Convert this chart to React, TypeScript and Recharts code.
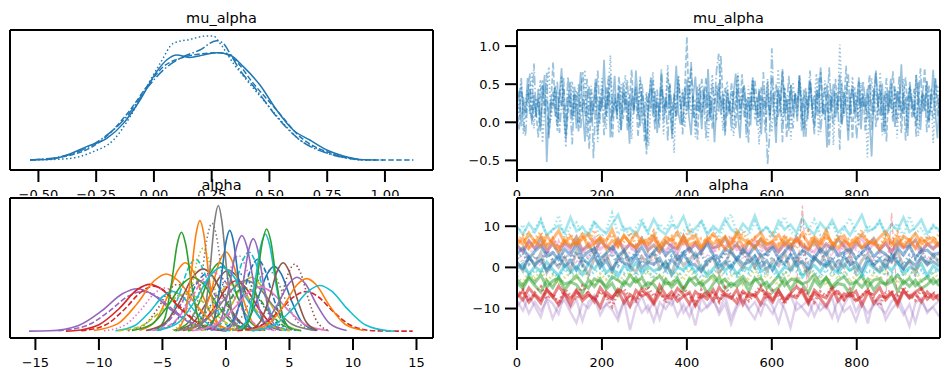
import React from 'react';
import { LineChart, Line, XAxis, YAxis } from 'recharts';

const FONT = '"DejaVu Sans", sans-serif';
const TAB10 = ['#1f77b4', '#ff7f0e', '#2ca02c', '#d62728', '#9467bd', '#8c564b', '#e377c2', '#7f7f7f', '#bcbd22', '#17becf'];
const DASHES = [undefined, '5.5 2.4', '1.5 2.5', '9.6 2.4 1.5 2.4'];

// ---------- mu_alpha KDE (4 chains) ----------
const muKdeSolidX = [-0.536, -0.45, -0.377, -0.291, -0.204, -0.132, -0.06, 0.012, 0.055, 0.099, 0.156, 0.214, 0.272, 0.329, 0.387, 0.459, 0.531, 0.603, 0.675, 0.748, 0.82, 0.892, 0.964];
const muKdeSolidY = [0.0, 0.005, 0.04, 0.107, 0.173, 0.293, 0.48, 0.707, 0.8, 0.84, 0.821, 0.84, 0.859, 0.84, 0.747, 0.6, 0.4, 0.24, 0.16, 0.08, 0.032, 0.005, 0.0];
const muKdeDashedX = [-0.536, -0.377, -0.233, -0.103, -0.031, 0.041, 0.113, 0.199, 0.286, 0.344, 0.43, 0.531, 0.632, 0.776, 0.921, 1.123];
const muKdeDashedY = [0.0, 0.032, 0.147, 0.4, 0.587, 0.747, 0.813, 0.848, 0.859, 0.813, 0.613, 0.4, 0.187, 0.048, 0.0, 0.0];
const muKdeDottedX = [-0.536, -0.377, -0.262, -0.175, -0.103, -0.031, 0.027, 0.084, 0.156, 0.228, 0.257, 0.286, 0.344, 0.401, 0.474, 0.56, 0.632, 0.704, 0.776, 0.921, 0.993];
const muKdeDottedY = [0.0, 0.01, 0.067, 0.16, 0.347, 0.587, 0.773, 0.933, 0.965, 0.992, 0.992, 0.933, 0.773, 0.64, 0.48, 0.293, 0.16, 0.093, 0.04, 0.0, 0.0];
const muKdeDashDotX = [-0.536, -0.377, -0.233, -0.118, -0.031, 0.041, 0.127, 0.199, 0.271, 0.3, 0.329, 0.372, 0.444, 0.531, 0.632, 0.776, 0.892];
const muKdeDashDotY = [0.0, 0.037, 0.16, 0.347, 0.573, 0.72, 0.827, 0.88, 0.955, 0.933, 0.853, 0.72, 0.56, 0.347, 0.16, 0.04, 0.005];

const muKdeXTicks = [-0.5, -0.25, 0, 0.25, 0.5, 0.75, 1.0];
const muKdeXLabels = ['\u22120.50', '\u22120.25', '0.00', '0.25', '0.50', '0.75', '1.00'];

// ---------- mu_alpha trace (4 chains, every 5th draw) ----------
const muDraws = [
  0, 5, 10, 15, 20, 25, 30, 35, 40, 45, 50, 55, 60, 65, 70, 75, 80, 85, 90, 95,
  100, 105, 110, 115, 120, 125, 130, 135, 140, 145, 150, 155, 160, 165, 170, 175, 180, 185, 190, 195,
  200, 205, 210, 215, 220, 225, 230, 235, 240, 245, 250, 255, 260, 265, 270, 275, 280, 285, 290, 295,
  300, 305, 310, 315, 320, 325, 330, 335, 340, 345, 350, 355, 360, 365, 370, 375, 380, 385, 390, 395,
  400, 405, 410, 415, 420, 425, 430, 435, 440, 445, 450, 455, 460, 465, 470, 475, 480, 485, 490, 495,
  500, 505, 510, 515, 520, 525, 530, 535, 540, 545, 550, 555, 560, 565, 570, 575, 580, 585, 590, 595,
  600, 605, 610, 615, 620, 625, 630, 635, 640, 645, 650, 655, 660, 665, 670, 675, 680, 685, 690, 695,
  700, 705, 710, 715, 720, 725, 730, 735, 740, 745, 750, 755, 760, 765, 770, 775, 780, 785, 790, 795,
  800, 805, 810, 815, 820, 825, 830, 835, 840, 845, 850, 855, 860, 865, 870, 875, 880, 885, 890, 895,
  900, 905, 910, 915, 920, 925, 930, 935, 940, 945, 950, 955, 960, 965, 970, 975, 980, 985, 990, 995,
];
const muChain0 = [
  0.25, 0.41, -0.05, 0.33, 0.12, 0.58, 0.19, 0.02, 0.36, 0.07, 0.44, -0.12, 0.29, 0.62, -0.52, 0.15, 0.30, 0.21, 0.48, 0.02,
  0.35, 0.71, 0.10, -0.18, 0.27, 0.53, 0.06, 0.39, -0.08, 0.24, 0.66, 0.13, -0.25, 0.31, 0.47, 0.00, 0.22, 0.57, -0.15, 0.34,
  0.18, 0.82, 0.09, 0.43, -0.20, 0.26, 0.61, 0.04, 0.37, -0.10, 0.52, 0.16, 0.30, -0.28, 0.45, 0.11, 0.68, 0.23, -0.05, 0.38,
  0.14, -0.30, 0.29, 0.55, 0.08, 0.41, -0.14, 0.20, 0.63, 0.01, 0.33, 0.17, 0.49, -0.22, 0.27, 0.74, 0.12, -0.03, 0.40, 0.21,
  0.56, 0.07, -0.17, 0.35, 0.60, 0.15, 0.28, -0.09, 0.46, 0.19, 0.70, 0.03, 0.32, -0.26, 0.24, 0.51, 0.10, 0.37, -0.12, 0.43,
  0.22, 0.05, 0.39, 0.64, 0.11, -0.21, 0.28, 0.47, 0.16, 0.33, -0.04, 0.58, 0.25, 0.09, 0.42, -0.16, 0.31, 0.19, 0.53, 0.02,
  0.36, 0.14, -0.27, 0.45, 0.23, 0.67, 0.08, 0.30, -0.11, 0.49, 0.18, 0.38, 0.01, 0.61, 0.26, -0.19, 0.34, 0.12, 0.55, 0.21,
  -0.07, 0.43, 0.29, 0.72, 0.10, 0.24, -0.33, 0.37, 0.15, 0.50, 0.06, 0.27, 0.63, -0.02, 0.40, 0.19, -0.24, 0.32, 0.48, 0.13,
  0.26, 0.59, -0.09, 0.35, 0.17, 0.44, 0.04, -0.45, 0.29, 0.68, 0.22, 0.09, 0.51, -0.13, 0.38, 0.15, 0.57, 0.28, -0.06, 0.41,
  0.20, 0.76, 0.11, 0.33, -0.18, 0.46, 0.24, 0.07, 0.62, 0.30, -0.10, 0.39, 0.16, 0.54, 0.03, 0.27, 0.69, 0.12, -0.21, 0.35,
];
const muChain1 = [
  0.18, -0.10, 0.47, 0.22, 0.05, 0.36, 0.64, -0.03, 0.28, 0.13, -0.20, 0.40, 0.55, 0.09, 0.31, -0.16, 0.24, 0.79, 0.16, -0.06,
  0.43, 0.20, 0.58, -0.24, 0.12, 0.35, 0.02, 0.48, 0.27, -0.13, 0.39, 0.66, 0.08, 0.21, -0.35, 0.30, 0.14, 0.52, 0.26, -0.02,
  0.45, 0.33, 0.06, 0.60, 0.19, -0.21, 0.37, 0.11, 0.60, 0.25, 0.04, 0.42, -0.11, 0.29, 0.69, 0.15, 0.34, -0.19, 0.23, 0.50,
  0.09, -0.42, 0.38, 0.18, 0.57, 0.01, 0.27, -0.07, 0.44, 0.31, 0.12, 0.65, 0.20, -0.15, 0.36, 0.07, 0.53, 0.24, -0.04, 0.41,
  1.12, 0.17, 0.72, 0.05, 0.30, -0.23, 0.46, 0.13, 0.26, 0.59, 0.02, 0.35, -0.09, 0.21, 0.48, 0.14, 0.87, 0.28, -0.18, 0.39,
  0.11, 0.52, 0.23, -0.08, 0.44, 0.19, 0.63, 0.06, 0.31, -0.27, 0.40, 0.15, 0.56, 0.28, 0.00, 0.47, 0.20, -0.14, 0.37, 0.09,
  0.58, 0.25, -0.05, 0.42, 0.13, 0.70, 0.32, -0.20, 0.24, 0.49, 0.08, 0.36, 0.17, 0.61, -0.11, 0.29, 0.45, 0.04, 0.53, 0.22,
  -0.16, 0.38, 0.10, 0.66, 0.27, 0.03, 0.50, -0.31, 0.34, 0.19, 0.57, 0.12, 0.41, -0.03, 0.26, 0.74, 0.15, 0.33, -0.22, 0.46,
  0.07, 0.55, 0.21, 0.39, -0.12, 0.30, 0.62, 0.14, 0.45, -0.06, 0.23, 0.51, 0.09, 0.36, -0.25, 0.42, 0.18, 0.67, 0.28, 0.01,
  0.40, -0.14, 0.33, 0.59, 0.16, 0.47, 0.05, 0.25, -0.19, 0.53, 0.11, 0.37, 0.71, 0.20, -0.07, 0.44, 0.26, 0.58, 0.08, 0.32,
];
const muChain2 = [
  0.30, 0.08, 0.52, -0.15, 0.26, 0.44, 0.11, 0.67, -0.08, 0.32, 0.20, 0.56, -0.27, 0.14, 0.38, 0.73, 0.03, 0.29, 0.47, -0.12,
  0.23, 0.61, 0.10, -0.33, 0.35, 0.19, 0.54, 0.06, 0.42, -0.04, 0.27, 0.13, 0.69, -0.19, 0.31, 0.48, 0.09, 0.37, -0.26, 0.22,
  0.58, 0.15, -0.09, 0.40, 0.88, 0.07, 0.33, 0.18, -0.14, 0.50, 0.25, 0.62, 0.02, 0.36, -0.22, 0.28, 0.45, 0.12, 0.55, -0.01,
  0.19, 0.40, -0.31, 0.26, 0.66, 0.14, 0.34, 0.05, 0.49, -0.16, 0.30, 0.75, 0.09, 0.21, -0.40, 0.39, 0.60, 0.17, 0.43, -0.07,
  0.27, 0.58, 0.11, 0.35, -0.20, 0.24, 0.51, 0.06, 0.40, 0.16, -0.24, 0.33, 0.63, 0.19, 0.02, 0.45, 0.27, -0.11, 0.36, 0.54,
  0.13, 0.41, -0.18, 0.29, 0.65, 0.08, 0.37, 0.22, -0.06, 0.48, 0.17, 0.59, 0.03, 0.32, -0.29, 0.25, 0.44, 0.10, 0.57, 0.20,
  -0.13, 0.36, 0.15, 0.70, 0.28, -0.02, 0.46, 0.12, 0.34, -0.23, 0.53, 0.21, 0.07, 0.62, 0.31, -0.09, 0.40, 0.18, 0.49, 0.05,
  0.26, 0.64, -0.17, 0.38, 0.11, 0.55, 0.23, 0.00, 0.43, -0.30, 0.29, 0.16, 1.02, 0.35, 0.08, 0.47, -0.12, 0.27, 0.60, 0.14,
  0.39, -0.05, 0.52, 0.20, 0.33, -0.46, 0.24, 0.58, 0.10, 0.41, 0.02, 0.66, 0.17, -0.15, 0.37, 0.28, 0.50, 0.06, 0.44, -0.21,
  0.31, 0.13, 0.57, 0.22, -0.08, 0.48, 0.35, 0.09, 0.63, -0.18, 0.26, 0.42, 0.15, 0.54, 0.01, 0.38, -0.27, 0.30, 0.49, 0.19,
];
const muChain3 = [
  0.12, 0.35, 0.58, 0.04, -0.18, 0.28, 0.45, 0.16, 0.77, 0.09, 0.31, -0.06, 0.49, 0.23, 0.65, -0.21, 0.18, 0.40, 0.07, 0.53,
  -0.14, 0.26, 0.44, 0.02, 0.60, 0.21, -0.29, 0.37, 0.15, 0.50, -0.09, 0.32, 0.19, 0.57, -0.02, 0.42, -0.47, 0.25, 0.68, 0.11,
  0.34, -0.17, 0.46, 0.20, 0.63, 0.05, 0.29, 0.14, 0.48, -0.12, 0.39, 0.24, 0.56, -0.07, 0.31, 0.17, 0.48, 0.08, 0.60, 0.22,
  -0.25, 0.36, 0.14, 0.59, 0.27, -0.10, 0.43, 0.09, 0.70, 0.18, 0.32, -0.25, 0.51, 0.15, 0.38, 0.04, 0.61, 0.26, -0.16, 0.45,
  0.11, 0.34, 0.79, 0.20, -0.05, 0.47, 0.13, 0.57, 0.29, -0.21, 0.40, 0.07, 0.52, 0.23, 0.69, 0.90, 0.30, 0.17, 0.45, 0.08,
  0.28, -0.11, 0.41, 0.19, 0.62, 0.03, 0.35, 0.49, -0.20, 0.26, 0.14, 0.56, 0.31, -0.04, 0.44, 0.10, 0.66, 0.22, -0.55, -0.15,
  0.97, 0.24, 0.50, 0.07, 0.33, -0.26, 0.46, 0.18, 0.61, 0.12, -0.08, 0.39, 0.27, 0.55, 0.02, 0.43, -0.19, 0.30, 0.68, 0.16,
  0.36, 0.09, 0.58, -0.13, 0.25, 0.47, 0.14, 0.72, 0.21, -0.03, 0.40, 0.29, -0.36, 0.52, 0.11, 0.34, 0.63, 0.06, 0.45, 0.19,
  -0.22, 0.37, 0.15, 0.54, 0.28, 0.04, 0.49, -0.10, 0.31, 0.66, 0.20, 0.42, -0.17, 0.26, 0.58, 0.12, 0.35, 0.01, 0.47, 0.23,
  0.60, 0.08, 0.39, -0.24, 0.30, 0.53, 0.17, 0.44, -0.06, 0.27, 0.71, 0.14, 0.36, -0.13, 0.48, 0.22, 0.05, 0.57, 0.32, 0.10,
];

const traceXTicks = [0, 200, 400, 600, 800];
const traceXLabels = ['0', '200', '400', '600', '800'];
const muTraceYTicks = [-0.5, 0, 0.5, 1.0];
const muTraceYLabels = ['\u22120.5', '0.0', '0.5', '1.0'];

// ---------- alpha KDE (per group, [x, density]) ----------
const alphaKdeCurves: [number, number][][] = [
  [[-6.8, 0.002], [-5.6, 0.026], [-4.64, 0.093], [-3.8, 0.168], [-3.2, 0.19], [-2.6, 0.168], [-1.76, 0.093], [-0.8, 0.026], [0.4, 0.002]],
  [[-5.4, 0.002], [-4.1, 0.022], [-3.06, 0.078], [-2.15, 0.141], [-1.5, 0.16], [-0.85, 0.141], [0.06, 0.078], [1.1, 0.022], [2.4, 0.002]],
  [[-4.0, 0.002], [-2.6, 0.023], [-1.48, 0.083], [-0.5, 0.15], [0.2, 0.17], [0.9, 0.15], [1.88, 0.083], [3.0, 0.023], [4.4, 0.002]],
  [[-2.0, 0.002], [-1.0, 0.028], [-0.2, 0.102], [0.5, 0.185], [1.0, 0.21], [1.5, 0.185], [2.2, 0.102], [3.0, 0.028], [4.0, 0.002]],
  [[-1.9, 0.002], [-0.6, 0.02], [0.44, 0.073], [1.35, 0.132], [2.0, 0.15], [2.65, 0.132], [3.56, 0.073], [4.6, 0.02], [5.9, 0.002]],
  [[-5.7, 0.002], [-4.6, 0.027], [-3.72, 0.097], [-2.95, 0.176], [-2.4, 0.2], [-1.85, 0.176], [-1.08, 0.097], [-0.2, 0.027], [0.9, 0.002]],
  [[-4.1, 0.002], [-2.9, 0.026], [-1.94, 0.093], [-1.1, 0.168], [-0.5, 0.19], [0.1, 0.168], [0.94, 0.093], [1.9, 0.026], [3.1, 0.002]],
  [[-3.4, 0.002], [-2.0, 0.019], [-0.88, 0.068], [0.1, 0.123], [0.8, 0.14], [1.5, 0.123], [2.48, 0.068], [3.6, 0.019], [5.0, 0.002]],
  [[-0.3, 0.002], [0.9, 0.023], [1.86, 0.083], [2.7, 0.15], [3.3, 0.17], [3.9, 0.15], [4.74, 0.083], [5.7, 0.023], [6.9, 0.002]],
  [[-6.2, 0.002], [-4.8, 0.019], [-3.68, 0.068], [-2.7, 0.123], [-2.0, 0.14], [-1.3, 0.123], [-0.32, 0.068], [0.8, 0.019], [2.2, 0.002]],
  [[-3.0, 0.002], [-2.0, 0.03], [-1.2, 0.107], [-0.5, 0.194], [0.0, 0.22], [0.5, 0.194], [1.2, 0.107], [2.0, 0.03], [3.0, 0.002]],
  [[0.5, 0.002], [1.6, 0.024], [2.48, 0.088], [3.25, 0.159], [3.8, 0.18], [4.35, 0.159], [5.12, 0.088], [6.0, 0.024], [7.1, 0.002]],
  [[-1.2, 0.002], [-0.2, 0.03], [0.6, 0.107], [1.3, 0.194], [1.8, 0.22], [2.3, 0.194], [3.0, 0.107], [3.8, 0.03], [4.8, 0.002]],
  [[-7.7, 0.001], [-6.4, 0.018], [-5.36, 0.063], [-4.45, 0.115], [-3.8, 0.13], [-3.15, 0.115], [-2.24, 0.063], [-1.2, 0.018], [0.1, 0.001]],
  [[-15.5, 0], [-13.9, 0.001], [-11.6, 0.016], [-9.76, 0.057], [-8.15, 0.104], [-7.0, 0.118], [-5.85, 0.104], [-4.24, 0.057], [-2.4, 0.016], [-0.1, 0.001]],
  [[-13.2, 0.001], [-11.0, 0.015], [-9.24, 0.054], [-7.7, 0.097], [-6.6, 0.11], [-5.5, 0.097], [-3.96, 0.054], [-2.2, 0.015], [0.0, 0.001]],
  [[-12.6, 0], [-12.0, 0.001], [-10.0, 0.018], [-8.4, 0.063], [-7.0, 0.115], [-6.0, 0.13], [-5.0, 0.115], [-3.6, 0.063], [-2.0, 0.018], [0.0, 0.001]],
  [[-11.4, 0.001], [-9.5, 0.017], [-7.98, 0.061], [-6.65, 0.11], [-5.7, 0.125], [-4.75, 0.11], [-3.42, 0.061], [-1.9, 0.017], [0.0, 0.001]],
  [[-10.4, 0.002], [-8.5, 0.021], [-6.98, 0.077], [-5.65, 0.14], [-4.7, 0.159], [-3.75, 0.14], [-2.42, 0.077], [-0.9, 0.021], [1.0, 0.002]],
  [[-9.6, 0.001], [-8.0, 0.016], [-6.72, 0.058], [-5.6, 0.106], [-4.8, 0.12], [-4.0, 0.106], [-2.88, 0.058], [-1.6, 0.016], [0.0, 0.001]],
  [[-8.7, 0.001], [-7.2, 0.015], [-6.0, 0.054], [-4.95, 0.097], [-4.2, 0.11], [-3.45, 0.097], [-2.4, 0.054], [-1.2, 0.015], [0.3, 0.001]],
  [[-8.5, 0.001], [-6.7, 0.014], [-5.26, 0.051], [-4.0, 0.092], [-3.1, 0.104], [-2.2, 0.092], [-0.94, 0.051], [0.5, 0.014], [2.3, 0.001]],
  [[-7.4, 0.002], [-5.8, 0.02], [-4.52, 0.073], [-3.4, 0.132], [-2.6, 0.15], [-1.8, 0.132], [-0.68, 0.073], [0.6, 0.02], [2.2, 0.002]],
  [[-5.45, 0.003], [-4.8, 0.037], [-4.28, 0.134], [-3.83, 0.243], [-3.5, 0.275], [-3.18, 0.243], [-2.72, 0.134], [-2.2, 0.037], [-1.55, 0.003]],
  [[-6.3, 0.002], [-4.8, 0.023], [-3.6, 0.084], [-2.55, 0.153], [-1.8, 0.173], [-1.05, 0.153], [0.0, 0.084], [1.2, 0.023], [2.7, 0.002]],
  [[-4.2, 0.003], [-3.4, 0.031], [-2.76, 0.112], [-2.2, 0.203], [-1.8, 0.23], [-1.4, 0.203], [-0.84, 0.112], [-0.2, 0.031], [0.6, 0.003]],
  [[-3.85, 0.003], [-3.25, 0.041], [-2.77, 0.15], [-2.35, 0.271], [-2.05, 0.307], [-1.75, 0.271], [-1.33, 0.15], [-0.85, 0.041], [-0.25, 0.003]],
  [[-5.8, 0.002], [-4.2, 0.022], [-2.92, 0.079], [-1.8, 0.144], [-1.0, 0.163], [-0.2, 0.144], [0.92, 0.079], [2.2, 0.022], [3.8, 0.002]],
  [[-3.2, 0.003], [-2.5, 0.041], [-1.94, 0.146], [-1.45, 0.265], [-1.1, 0.3], [-0.75, 0.265], [-0.26, 0.146], [0.3, 0.041], [1.0, 0.003]],
  [[-2.25, 0.004], [-1.7, 0.047], [-1.26, 0.17], [-0.88, 0.308], [-0.6, 0.349], [-0.33, 0.308], [0.06, 0.17], [0.5, 0.047], [1.05, 0.004]],
  [[-5.45, 0.002], [-3.75, 0.024], [-2.39, 0.087], [-1.2, 0.157], [-0.35, 0.178], [0.5, 0.157], [1.69, 0.087], [3.05, 0.024], [4.75, 0.002]],
  [[-4.0, 0.001], [-2.5, 0.018], [-1.3, 0.063], [-0.25, 0.115], [0.5, 0.13], [1.25, 0.115], [2.3, 0.063], [3.5, 0.018], [5.0, 0.001]],
  [[-1.5, 0.003], [-0.9, 0.038], [-0.42, 0.136], [0.0, 0.247], [0.3, 0.28], [0.6, 0.247], [1.02, 0.136], [1.5, 0.038], [2.1, 0.003]],
  [[-3.95, 0.002], [-2.35, 0.022], [-1.07, 0.079], [0.05, 0.144], [0.85, 0.163], [1.65, 0.144], [2.77, 0.079], [4.05, 0.022], [5.65, 0.002]],
  [[-1.15, 0.003], [-0.35, 0.036], [0.29, 0.13], [0.85, 0.235], [1.25, 0.266], [1.65, 0.235], [2.21, 0.13], [2.85, 0.036], [3.65, 0.003]],
  [[-3.0, 0.001], [-1.5, 0.016], [-0.3, 0.058], [0.75, 0.106], [1.5, 0.12], [2.25, 0.106], [3.3, 0.058], [4.5, 0.016], [6.0, 0.001]],
  [[-3.8, 0.002], [-2.0, 0.019], [-0.56, 0.069], [0.7, 0.124], [1.6, 0.141], [2.5, 0.124], [3.76, 0.069], [5.2, 0.019], [7.0, 0.002]],
  [[0.05, 0.003], [0.75, 0.035], [1.31, 0.125], [1.8, 0.227], [2.15, 0.257], [2.5, 0.227], [2.99, 0.125], [3.55, 0.035], [4.25, 0.003]],
  [[-0.5, 0.002], [0.5, 0.027], [1.3, 0.097], [2.0, 0.176], [2.5, 0.2], [3.0, 0.176], [3.7, 0.097], [4.5, 0.027], [5.5, 0.002]],
  [[-2.7, 0.001], [-0.9, 0.017], [0.54, 0.06], [1.8, 0.108], [2.7, 0.123], [3.6, 0.108], [4.86, 0.06], [6.3, 0.017], [8.1, 0.001]],
  [[1.0, 0.003], [1.7, 0.036], [2.26, 0.131], [2.75, 0.238], [3.1, 0.27], [3.45, 0.238], [3.94, 0.131], [4.5, 0.036], [5.2, 0.003]],
  [[1.25, 0.003], [1.9, 0.038], [2.42, 0.138], [2.88, 0.25], [3.2, 0.284], [3.53, 0.25], [3.98, 0.138], [4.5, 0.038], [5.15, 0.003]],
  [[1.8, 0.002], [2.7, 0.026], [3.42, 0.093], [4.05, 0.168], [4.5, 0.19], [4.95, 0.168], [5.58, 0.093], [6.3, 0.026], [7.2, 0.002]],
  [[2.7, 0.002], [3.6, 0.025], [4.32, 0.091], [4.95, 0.164], [5.4, 0.186], [5.85, 0.164], [6.48, 0.091], [7.2, 0.025], [8.1, 0.002]],
  [[1.7, 0.002], [3.0, 0.02], [4.04, 0.073], [4.95, 0.132], [5.6, 0.15], [6.25, 0.132], [7.16, 0.073], [8.2, 0.02], [9.5, 0.002]],
  [[0.9, 0.001], [2.7, 0.015], [4.14, 0.054], [5.4, 0.097], [6.3, 0.11], [7.2, 0.097], [8.46, 0.054], [9.9, 0.015], [11.7, 0.001], [14.7, 0]],
  [[1.85, 0.002], [3.35, 0.02], [4.55, 0.071], [5.6, 0.129], [6.35, 0.146], [7.1, 0.129], [8.15, 0.071], [9.35, 0.02], [10.85, 0.002]],
  [[2.0, 0.001], [3.8, 0.017], [5.24, 0.062], [6.5, 0.112], [7.4, 0.127], [8.3, 0.112], [9.56, 0.062], [11.0, 0.017], [12.8, 0.001], [13.3, 0]],
];
const alphaKdeColorIdx = [1, 0, 5, 6, 8, 9, 2, 3, 7, 4, 1, 0, 9, 5, 4, 4, 3, 3, 1, 6, 9, 8, 2, 2, 5, 8, 1, 6, 7, 7, 9, 8, 0, 0, 4, 2, 7, 4, 0, 6, 9, 2, 5, 5, 4, 3, 1, 9];
const alphaKdeDashIdx = [0, 1, 0, 2, 0, 1, 0, 0, 2, 1, 0, 0, 1, 2, 0, 1, 0, 1, 0, 2, 0, 1, 0, 0, 0, 2, 0, 1, 2, 0, 0, 1, 0, 2, 0, 1, 0, 0, 1, 0, 0, 0, 0, 2, 0, 1, 0, 0];
const alphaKdeXTicks = [-15, -10, -5, 0, 5, 10, 15];
const alphaKdeXLabels = ['\u221215', '\u221210', '\u22125', '0', '5', '10', '15'];

// ---------- alpha trace (groups, every 14th draw) ----------
const alphaDraws = [0, 14, 28, 42, 56, 70, 84, 98, 112, 126, 140, 154, 168, 182, 196, 210, 224, 238, 252, 266, 280, 294, 308, 322, 336, 350, 364, 378, 392, 406, 420, 434, 448, 462, 476, 490, 504, 518, 532, 546, 560, 574, 588, 602, 616, 630, 644, 658, 672, 686, 700, 714, 728, 742, 756, 770, 784, 798, 812, 826, 840, 854, 868, 882, 896, 910, 924, 938, 952, 966, 980, 994];
const alphaPurple = [-8.2, -10.5, -6.9, -9.4, -12.1, -7.5, -8.8, -11.3, -6.4, -9.9, -7.8, -13.0, -8.5, -6.8, -10.2, -9.1, -7.2, -11.8, -8.0, -15.2, -9.6, -7.0, -10.8, -8.3, -12.6, -7.7, -9.2, -6.6, -11.0, -8.9, -14.1, -7.4, -9.8, -8.1, -10.6, -6.9, -12.3, -9.0, -7.6, -10.1, -8.4, -11.5, -7.1, -9.5, -13.4, -8.2, -6.7, -10.4, -9.3, -7.9, -11.9, -8.6, -10.0, -7.3, -12.8, -9.1, -6.5, -10.7, -8.0, -13.6, -7.8, -9.7, -11.2, -8.3, -6.9, -10.3, -14.3, -8.7, -7.5, -11.1, -9.4, -8.1];
const alphaPurple2 = [-9.5, -7.6, -11.2, -8.4, -10.6, -7.9, -12.4, -9.1, -8.0, -10.9, -13.5, -8.7, -9.9, -7.4, -11.6, -8.9, -10.3, -12.9, -8.2, -9.6, -7.7, -11.0, -9.3, -13.1, -8.5, -10.1, -7.8, -11.8, -9.0, -12.0, -8.3, -10.7, -9.4, -7.5, -11.4, -8.8, -13.8, -9.7, -8.1, -10.4, -12.5, -8.6, -9.2, -11.3, -7.9, -10.0, -14.6, -8.4, -9.8, -11.7, -8.0, -10.5, -9.1, -12.2, -7.6, -10.8, -9.5, -13.0, -8.7, -11.1, -9.3, -7.8, -12.7, -10.2, -8.5, -11.5, -9.0, -13.3, -8.2, -10.6, -9.7, -11.9];
const alphaPink = [3.4, 1.2, 5.0, 2.6, 0.4, 4.1, 3.0, 6.2, 1.8, 3.7, 0.9, 4.8, 2.2, 5.5, 3.3, 1.5, 4.4, 2.8, 0.6, 3.9, 5.7, 2.1, 3.5, 1.0, 4.6, 2.9, 6.0, 1.7, 3.2, 4.9, 0.8, 3.6, 2.4, 5.2, 1.4, 4.0, 3.1, 6.5, 2.0, 3.8, 0.7, 4.5, 2.7, 5.1, 1.9, 3.4, 4.7, 1.1, 3.0, 5.6, 2.3, 4.2, 0.5, 3.7, 2.5, 5.3, 1.6, 4.3, 3.2, 6.1, 1.3, 3.9, 2.6, 4.8, 0.9, 3.5, 5.0, 2.2, 4.1, 1.8, 3.6, 2.9];
const alphaBrown = [5.3, 3.8, 6.4, 4.6, 7.1, 4.0, 5.7, 3.5, 6.0, 4.9, 7.4, 4.2, 5.5, 3.3, 6.6, 5.0, 4.4, 6.9, 3.9, 5.8, 4.7, 7.0, 4.1, 5.4, 3.6, 6.3, 5.1, 4.5, 7.6, 4.0, 5.9, 3.7, 6.5, 4.8, 5.2, 7.2, 4.3, 5.6, 3.4, 6.2, 4.9, 6.8, 4.1, 5.3, 3.8, 6.1, 4.6, 7.3, 5.0, 4.2, 6.4, 3.9, 5.7, 4.4, 6.9, 5.1, 3.6, 6.0, 4.7, 5.5, 7.0, 4.3, 5.8, 3.7, 6.3, 4.9, 5.2, 6.7, 4.0, 5.6, 4.5, 6.1];
const alphaPink2 = [5.2, 3.9, 6.4, 4.5, 5.8, 3.4, 6.9, 4.8, 5.5, 4.1, 6.2, 3.7, 5.0, 7.1, 4.4, 5.6, 3.6, 6.5, 4.9, 5.3, 3.8, 6.0, 4.6, 7.3, 5.1, 4.0, 5.7, 3.5, 6.7, 4.7, 5.4, 4.2, 6.3, 3.9, 5.9, 4.8, 7.0, 4.3, 5.2, 3.6, 6.6, 5.0, 4.5, 6.1, 3.8, 5.5, 4.1, 6.8, 5.3, 4.4, 3.7, 6.2, 4.9, 5.7, 3.5, 6.4, 4.6, 5.1, 7.2, 4.0, 5.8, 4.3, 6.0, 3.9, 5.4, 4.7, 6.5, 5.0, 3.6, 5.9, 4.8, 5.3];
const alphaOlive = [-2.2, -3.9, -1.0, -2.8, -0.6, -3.4, -1.9, -4.2, -2.5, -1.3, -3.1, -0.4, -2.7, -4.5, -1.6, -2.9, -0.9, -3.6, -2.0, -1.4, -4.0, -2.3, -0.7, -3.2, -1.8, -2.6, -4.7, -1.2, -3.0, -0.5, -2.4, -3.8, -1.5, -2.9, -0.8, -3.5, -2.1, -1.1, -4.1, -2.6, -0.3, -3.3, -1.7, -2.8, -4.4, -1.0, -2.5, -3.7, -1.4, -0.6, -3.0, -2.2, -4.3, -1.6, -2.7, -0.9, -3.4, -1.9, -2.4, -4.0, -1.3, -3.1, -0.7, -2.6, -3.9, -1.5, -2.0, -0.4, -3.6, -2.3, -1.1, -2.8];
const alphaGreen = [-3.8, -5.1, -2.6, -4.4, -6.0, -3.2, -4.9, -2.4, -5.5, -3.6, -4.2, -6.3, -3.0, -4.7, -2.8, -5.3, -3.9, -6.6, -3.4, -4.5, -2.5, -5.0, -3.7, -4.1, -6.1, -2.9, -4.8, -3.3, -5.6, -2.7, -4.3, -3.5, -6.4, -4.0, -2.3, -5.2, -3.8, -4.6, -3.1, -5.8, -2.6, -4.4, -3.6, -6.0, -4.9, -2.8, -5.4, -3.2, -4.1, -6.2, -3.0, -4.7, -2.5, -5.1, -3.9, -4.3, -6.5, -3.4, -4.8, -2.9, -5.5, -3.7, -4.0, -2.4, -5.9, -3.3, -4.6, -3.1, -5.2, -4.2, -2.7, -4.5];
const alphaGreen2 = [-3.0, -4.4, -2.2, -3.7, -1.9, -4.8, -3.3, -2.6, -4.1, -3.5, -2.0, -3.9, -5.0, -2.8, -3.4, -4.6, -2.3, -3.1, -4.3, -1.8, -3.6, -2.5, -4.9, -3.2, -2.1, -4.0, -3.8, -2.7, -5.2, -3.0, -2.4, -4.5, -3.3, -1.9, -3.9, -2.9, -4.7, -3.5, -2.2, -4.2, -3.1, -2.6, -5.1, -3.7, -2.0, -4.4, -3.0, -2.8, -4.0, -3.4, -1.7, -3.8, -2.5, -4.6, -3.2, -2.3, -4.1, -3.6, -2.0, -4.8, -3.1, -2.7, -4.3, -3.5, -1.9, -3.9, -2.6, -4.5, -3.3, -2.4, -4.0, -3.0];
const alphaCyanHigh = [8.2, 10.4, 7.1, 9.3, 11.8, 7.6, 8.9, 12.6, 7.3, 9.7, 10.9, 7.9, 8.5, 11.3, 7.0, 9.1, 13.2, 8.0, 10.1, 7.5, 9.6, 11.9, 8.3, 7.2, 10.6, 9.0, 12.1, 7.7, 8.8, 10.3, 7.4, 11.5, 8.6, 9.4, 7.1, 10.8, 12.9, 8.1, 9.2, 7.8, 11.1, 8.4, 10.0, 7.3, 9.8, 12.3, 8.7, 7.6, 10.5, 9.0, 11.6, 7.9, 8.3, 10.9, 7.2, 9.5, 12.0, 8.5, 7.4, 10.2, 9.1, 11.4, 7.7, 8.9, 10.7, 7.5, 12.5, 8.2, 9.6, 7.0, 10.3, 8.7];
const alphaCyanHigh2 = [9.8, 8.1, 10.7, 8.6, 11.4, 7.9, 9.2, 10.1, 8.4, 12.2, 8.8, 9.9, 7.7, 11.0, 9.4, 8.2, 10.5, 12.8, 8.9, 9.6, 7.8, 10.9, 8.5, 11.7, 9.1, 8.0, 10.3, 9.7, 12.4, 8.3, 9.5, 11.2, 7.9, 10.0, 8.7, 11.8, 9.3, 8.1, 10.6, 9.0, 12.6, 8.6, 9.8, 7.7, 11.3, 9.2, 10.4, 8.4, 12.0, 9.5, 8.0, 10.8, 9.1, 11.5, 8.5, 9.9, 7.8, 10.2, 12.7, 8.8, 9.4, 11.1, 8.2, 10.5, 9.0, 12.1, 8.6, 9.7, 11.6, 8.3, 10.0, 9.2];
const alphaCyanLow = [-0.3, 0.9, -1.6, 0.2, -0.9, 1.3, -0.5, -2.0, 0.6, -1.1, 0.1, -1.8, 0.8, -0.4, 1.5, -1.3, -0.1, -2.2, 0.5, -0.7, 1.1, -1.5, 0.3, -0.9, -0.2, 1.4, -1.9, 0.0, -0.6, 0.9, -1.2, 0.4, -2.1, -0.3, 1.2, -0.8, 0.6, -1.6, 0.2, -0.5, 1.6, -1.0, -0.2, 0.7, -1.7, 0.1, -0.6, 1.0, -2.3, -0.4, 0.5, -1.1, 1.3, -0.3, -1.4, 0.8, -0.7, 0.3, -1.9, 1.1, -0.1, -1.2, 0.6, -0.8, 1.4, -1.5, 0.0, -0.5, 0.9, -2.0, 0.4, -0.9];
const alphaCyanLow2 = [-1.0, 0.1, -2.1, -0.7, -1.6, 0.3, -1.3, -2.4, -0.4, -1.8, -0.9, 0.2, -2.0, -1.1, -0.3, -1.7, -2.6, -0.8, -1.4, 0.0, -1.9, -0.6, -1.2, -2.3, -0.2, -1.5, -0.9, -2.1, -1.0, 0.4, -1.6, -2.5, -0.7, -1.3, -0.1, -1.8, -1.1, -2.2, -0.5, -1.4, 0.1, -2.0, -1.2, -0.8, -2.7, -1.5, -0.4, -1.0, -1.9, 0.2, -1.3, -2.3, -0.6, -1.7, -0.9, -2.1, -0.3, -1.5, -2.5, -0.8, -1.1, 0.0, -1.8, -1.4, -2.2, -0.5, -1.0, -1.9, -0.7, -2.4, -1.2, -0.6];
const alphaGray = [1.2, -0.9, 2.8, 0.4, 3.5, -1.3, 1.7, 0.0, 2.4, -0.6, 3.9, 1.0, -1.8, 2.1, 0.6, 3.2, -0.4, 1.5, 4.1, 0.2, -1.1, 2.6, 0.9, 3.7, -0.2, 1.3, -1.6, 2.9, 0.5, 1.9, 3.4, -0.8, 1.1, 2.3, -1.4, 0.7, 4.3, 1.6, -0.3, 2.7, 0.1, 3.0, -1.0, 1.8, 0.4, 3.6, -0.7, 2.2, 1.0, -1.9, 2.5, 0.8, 3.8, -0.5, 1.4, 0.0, 2.9, -1.2, 1.7, 3.3, 0.3, -0.9, 2.0, 1.2, 4.0, -0.1, 1.6, -1.5, 2.4, 0.6, 3.1, 1.0];
const alphaBlueC = [1.2, -0.3, 2.4, 0.6, 1.8, -0.8, 1.0, 2.9, 0.2, 1.5, -0.5, 2.1, 0.9, 3.0, 0.0, 1.6, -0.9, 2.5, 1.1, 0.4, 2.7, -0.2, 1.3, 0.7, 2.2, -0.6, 1.9, 0.3, 3.2, 1.0, 0.5, -1.0, 1.7, 2.6, 0.1, 1.4, -0.4, 2.3, 0.8, 1.2, 2.8, 0.0, 1.6, -0.7, 2.0, 0.9, 3.1, 0.4, 1.5, -0.3, 2.4, 1.1, 0.2, 1.8, -0.5, 2.6, 0.7, 1.3, -0.9, 2.2, 0.6, 1.9, 0.0, 2.9, 1.2, -0.4, 1.7, 0.5, 2.5, 0.8, 1.4, 0.3];
const alphaBlueA = [2.1, 3.4, 0.8, 2.7, 1.3, 4.0, 1.8, 0.3, 2.9, 1.5, 3.8, 0.6, 2.4, 4.5, 1.1, 2.0, 3.3, 0.4, 2.6, 1.7, 3.9, 0.9, 2.2, 3.5, 1.4, 0.1, 2.8, 1.9, 4.2, 1.0, 2.5, 3.1, 0.7, 2.3, 1.6, 3.7, 0.5, 2.0, 4.4, 1.2, 2.7, 0.8, 3.4, 1.8, 2.2, 0.2, 3.0, 1.5, 3.9, 1.1, 2.4, 4.1, 0.9, 2.6, 1.3, 3.2, 0.6, 2.1, 3.6, 1.7, 0.4, 2.8, 1.4, 3.5, 2.0, 0.7, 3.0, 1.9, 4.3, 1.0, 2.5, 1.6];
const alphaBlueB = [3.3, 4.8, 2.2, 3.9, 5.3, 2.7, 3.6, 1.9, 4.4, 3.0, 5.6, 2.5, 3.8, 4.6, 2.1, 3.4, 5.0, 2.8, 4.1, 1.7, 3.2, 4.9, 2.4, 3.7, 5.4, 2.9, 4.3, 2.0, 3.5, 4.7, 2.6, 3.9, 5.7, 3.1, 2.3, 4.5, 3.6, 1.8, 4.2, 3.0, 5.1, 2.7, 3.4, 4.8, 2.2, 3.8, 5.5, 2.5, 4.0, 3.3, 1.9, 4.6, 3.1, 5.2, 2.8, 3.7, 4.4, 2.1, 3.5, 5.0, 2.6, 4.1, 3.2, 1.6, 4.7, 3.0, 5.3, 2.4, 3.9, 4.2, 2.9, 3.6];
const alphaOrangeC = [5.6, 7.0, 4.6, 6.3, 5.1, 7.6, 5.9, 4.4, 6.8, 5.3, 6.1, 8.0, 4.9, 5.7, 7.3, 4.5, 6.5, 5.2, 7.8, 5.8, 4.7, 6.4, 5.5, 7.1, 4.3, 6.0, 6.9, 5.0, 7.5, 5.4, 6.2, 4.8, 7.2, 5.7, 6.6, 4.4, 5.9, 7.9, 5.1, 6.3, 4.6, 7.0, 5.6, 6.1, 4.9, 7.4, 5.3, 6.7, 5.8, 4.5, 6.9, 5.2, 7.7, 6.0, 4.7, 6.4, 5.5, 7.2, 4.8, 6.2, 5.9, 4.4, 6.8, 5.4, 7.5, 5.0, 6.6, 4.6, 7.1, 5.7, 6.3, 5.1];
const alphaOrangeA = [6.4, 7.8, 5.2, 6.9, 8.6, 5.7, 7.1, 4.8, 6.6, 8.2, 5.5, 7.4, 6.0, 9.0, 5.9, 6.7, 7.9, 4.9, 6.3, 8.4, 5.6, 7.2, 6.1, 8.8, 5.3, 6.8, 7.6, 5.0, 6.5, 9.3, 5.8, 7.0, 6.2, 8.1, 4.7, 6.9, 7.5, 5.4, 8.7, 6.0, 7.3, 5.1, 6.6, 8.3, 5.9, 7.7, 6.4, 4.6, 7.0, 8.9, 5.5, 6.8, 7.4, 5.2, 8.0, 6.3, 7.1, 5.7, 9.1, 6.1, 6.7, 5.0, 7.8, 6.2, 8.5, 5.6, 7.2, 6.0, 4.9, 7.6, 6.5, 8.1];
const alphaOrangeB = [7.0, 5.6, 8.3, 6.2, 7.7, 5.1, 6.8, 8.9, 6.0, 7.4, 5.4, 6.9, 8.1, 5.8, 7.2, 6.4, 9.2, 5.5, 7.6, 6.1, 8.4, 5.9, 6.7, 7.9, 5.2, 7.3, 6.5, 8.6, 5.7, 6.9, 7.8, 5.0, 6.6, 8.2, 6.3, 7.5, 5.3, 8.8, 6.8, 5.9, 7.1, 8.5, 5.6, 6.4, 7.9, 5.4, 7.0, 6.2, 8.3, 5.8, 7.4, 6.0, 9.0, 5.5, 6.9, 7.7, 5.1, 6.6, 8.0, 6.3, 5.7, 7.3, 8.7, 6.1, 5.3, 7.6, 6.5, 8.2, 5.9, 6.8, 7.2, 5.5];
const alphaRedA = [-6.3, -7.9, -5.0, -6.8, -8.7, -5.5, -7.2, -4.6, -6.5, -9.1, -5.8, -7.4, -6.1, -8.3, -4.9, -6.9, -7.7, -5.3, -6.4, -9.4, -5.6, -7.0, -6.2, -8.5, -4.4, -6.7, -7.6, -5.1, -6.6, -8.9, -5.9, -7.3, -6.0, -8.1, -4.8, -6.8, -7.5, -5.4, -9.0, -6.2, -7.1, -5.2, -6.6, -8.4, -5.7, -7.8, -6.3, -4.7, -6.1, -8.8, -5.5, -6.9, -7.4, -5.0, -8.2, -6.4, -7.0, -5.8, -9.2, -6.1, -6.7, -4.9, -7.9, -6.3, -8.6, -5.6, -7.3, -6.0, -5.1, -7.7, -6.5, -8.0];
const alphaRedB = [-7.0, -5.4, -8.2, -6.1, -4.7, -7.6, -6.3, -8.8, -5.2, -6.9, -7.8, -4.5, -6.5, -8.0, -5.9, -7.1, -9.5, -6.0, -5.3, -7.4, -8.3, -6.2, -4.8, -7.0, -5.7, -8.6, -6.4, -7.3, -5.0, -6.8, -9.0, -5.5, -7.2, -6.0, -8.4, -4.9, -6.7, -7.5, -5.8, -8.1, -6.3, -4.6, -7.7, -5.6, -6.9, -8.9, -6.1, -7.2, -5.1, -6.6, -8.5, -5.9, -7.0, -4.7, -6.4, -7.9, -5.3, -8.3, -6.8, -5.5, -7.4, -9.3, -6.2, -5.7, -7.1, -4.8, -6.6, -8.0, -5.4, -7.5, -6.0, -7.2];
const alphaRedC = [-7.2, -5.8, -8.4, -6.5, -7.9, -5.3, -7.0, -9.1, -6.2, -7.6, -5.5, -8.1, -6.8, -7.4, -9.6, -6.0, -7.3, -5.7, -8.6, -6.6, -7.8, -5.2, -6.9, -8.9, -6.3, -7.5, -5.9, -8.2, -7.0, -6.1, -9.3, -6.7, -7.7, -5.4, -8.0, -6.4, -7.2, -8.7, -5.8, -7.1, -6.5, -9.0, -6.0, -7.9, -5.6, -8.3, -6.8, -7.4, -5.3, -8.5, -6.2, -7.6, -9.4, -6.6, -5.9, -7.8, -6.3, -8.1, -7.0, -5.5, -8.8, -6.9, -7.3, -6.1, -9.2, -5.7, -7.5, -6.4, -8.4, -6.0, -7.7, -6.7];
// two isolated excursions of one red chain (draws ~670 and ~880)
const alphaRedSpikes = [null, null, null, null, null, null, null, null, null, null, null, null, null, null, null, null, null, null, null, null, null, null, null, null, null, null, null, null, null, null, null, null, null, null, null, null, null, null, null, null, null, null, null, null, null, null, null, -4.7, 15.0, -8.8, null, null, null, null, null, null, null, null, null, null, null, null, -7.9, 13.2, -8.6, null, null, null, null, null, null, null];

const alphaTraceSeries = [
  alphaPurple, alphaPurple2, alphaPink, alphaBrown, alphaPink2, alphaOlive, alphaGreen, alphaGreen2,
  alphaCyanHigh, alphaCyanHigh2, alphaCyanLow, alphaCyanLow2, alphaGray, alphaBlueC, alphaBlueA, alphaBlueB,
  alphaOrangeC, alphaOrangeA, alphaOrangeB, alphaRedA, alphaRedB, alphaRedC, alphaRedSpikes,
];
const alphaTraceColorIdx = [4, 4, 6, 5, 6, 8, 2, 2, 9, 9, 9, 9, 7, 0, 0, 0, 1, 1, 1, 3, 3, 3, 3];
const alphaTraceOpacity = [0.3, 0.3, 0.45, 0.5, 0.45, 0.5, 0.5, 0.5, 0.38, 0.38, 0.5, 0.5, 0.45, 0.5, 0.5, 0.5, 0.55, 0.55, 0.55, 0.55, 0.55, 0.55, 0.35];
const alphaTraceWidth = [2.4, 2.4, 3, 3, 3, 3, 3, 3, 2.6, 2.6, 3, 3, 3, 3, 3, 3, 3, 3, 3, 3, 3, 3, 1.2];
const alphaTraceYTicks = [-10, 0, 10];
const alphaTraceYLabels = ['\u221210', '0', '10'];

// ---------- tables ----------
const muKdeSeries = [
  muKdeSolidX.map((x, i) => ({ x, y: muKdeSolidY[i] })),
  muKdeDashedX.map((x, i) => ({ x, y: muKdeDashedY[i] })),
  muKdeDottedX.map((x, i) => ({ x, y: muKdeDottedY[i] })),
  muKdeDashDotX.map((x, i) => ({ x, y: muKdeDashDotY[i] })),
];
const muTraceRows = muDraws.map((draw, i) => ({ draw, c0: muChain0[i], c1: muChain1[i], c2: muChain2[i], c3: muChain3[i] }));
const alphaTraceRows = alphaDraws.map((draw, i) => {
  const row: Record<string, number | null> = { draw };
  alphaTraceSeries.forEach((s, k) => { row['s' + k] = s[i]; });
  return row;
});

// ---------- styling helpers ----------
const spine = { stroke: '#000', strokeWidth: 2 };
const tickStyle = { fontSize: 13, fill: '#000', fontFamily: FONT };
const BOX_W = 423;
const BOX_H = 140;

function fmt(ticks: number[], labels: string[]) {
  return (v: number) => {
    const i = ticks.findIndex((t) => Math.abs(t - v) < 1e-9);
    return i >= 0 ? labels[i] : String(v);
  };
}

function axes(opts: {
  xKey: string; xDomain: [number, number]; xTicks: number[]; xLabels: string[];
  yDomain: [number, number]; yW: number; yTicks?: number[]; yLabels?: string[];
}) {
  const { xKey, xDomain, xTicks, xLabels, yDomain, yW, yTicks, yLabels } = opts;
  return [
    <XAxis key="xb" xAxisId={0} dataKey={xKey} type="number" domain={xDomain} allowDataOverflow ticks={xTicks} interval={0}
      tickFormatter={fmt(xTicks, xLabels)} tickSize={12} tickMargin={8} height={40}
      axisLine={spine} tickLine={spine} tick={tickStyle} />,
    <XAxis key="xt" xAxisId="top" orientation="top" type="number" domain={xDomain} allowDataOverflow height={1}
      tick={false} tickLine={false} axisLine={spine} />,
    yTicks ? (
      <YAxis key="yl" yAxisId={0} type="number" domain={yDomain} allowDataOverflow ticks={yTicks} interval={0}
        tickFormatter={fmt(yTicks, yLabels || [])} tickSize={12} tickMargin={5} width={yW}
        axisLine={spine} tickLine={spine} tick={tickStyle} />
    ) : (
      <YAxis key="yl" yAxisId={0} type="number" domain={yDomain} allowDataOverflow width={yW}
        tick={false} tickLine={false} axisLine={spine} />
    ),
    <YAxis key="yr" yAxisId="right" orientation="right" type="number" domain={yDomain} allowDataOverflow width={1}
      tick={false} tickLine={false} axisLine={spine} />,
  ];
}

function Panel(props: { left: number; top: number; yW: number; white?: boolean; data?: any[]; children: React.ReactNode }) {
  const { left, top, yW, white, data, children } = props;
  const W = 2 + yW + BOX_W + 1 + 2;
  const H = 1 + 1 + BOX_H + 40;
  return (
    <div style={{ position: 'absolute', left: left - 2 - yW, top: top - 2, width: W, height: H, background: white ? '#fff' : 'transparent' }}>
      <LineChart width={W} height={H} data={data} margin={{ top: 1, right: 2, bottom: 0, left: 2 }}>
        {children}
      </LineChart>
    </div>
  );
}

export default function App() {
  const TL = { left: 10, top: 30 };
  const TR = { left: 517, top: 30 };
  const BL = { left: 10, top: 197.5 };
  const BR = { left: 517, top: 197.5 };
  return (
    <div style={{ position: 'absolute', left: 0, top: 0, width: 950, height: 379, background: '#fff', overflow: 'hidden' }}>
      <Panel left={TL.left} top={TL.top} yW={8}>
        {axes({ xKey: 'x', xDomain: [-0.623, 1.208], xTicks: muKdeXTicks, xLabels: muKdeXLabels, yDomain: [-0.08, 1.04], yW: 8 })}
        {muKdeSeries.map((d, i) => (
          <Line key={'mk' + i} data={d} dataKey="y" type="monotone" stroke={TAB10[0]} strokeWidth={1.5}
            strokeDasharray={DASHES[i]} dot={false} activeDot={false} isAnimationActive={false} />
        ))}
      </Panel>

      <Panel left={TR.left} top={TR.top} yW={52} data={muTraceRows}>
        {axes({ xKey: 'draw', xDomain: [0, 996], xTicks: traceXTicks, xLabels: traceXLabels, yDomain: [-0.626, 1.211], yW: 52, yTicks: muTraceYTicks, yLabels: muTraceYLabels })}
        {['c0', 'c1', 'c2', 'c3'].map((k, i) => (
          <Line key={k} dataKey={k} type="linear" stroke={TAB10[0]} strokeOpacity={0.45} strokeWidth={1.7}
            strokeDasharray={DASHES[i]} dot={false} activeDot={false} isAnimationActive={false} />
        ))}
      </Panel>

      <Panel left={BL.left} top={BL.top} yW={8} white>
        {axes({ xKey: 'x', xDomain: [-17.0, 16.3], xTicks: alphaKdeXTicks, xLabels: alphaKdeXLabels, yDomain: [-0.019, 0.37], yW: 8 })}
        {alphaKdeCurves.map((pts, i) => (
          <Line key={'ak' + i} data={pts.map(([x, y]) => ({ x, y }))} dataKey="y" type="monotone"
            stroke={TAB10[alphaKdeColorIdx[i]]} strokeWidth={1.6} strokeDasharray={DASHES[alphaKdeDashIdx[i]]}
            dot={false} activeDot={false} isAnimationActive={false} />
        ))}
      </Panel>

      <Panel left={BR.left} top={BR.top} yW={52} white data={alphaTraceRows}>
        {axes({ xKey: 'draw', xDomain: [0, 996], xTicks: traceXTicks, xLabels: traceXLabels, yDomain: [-17.16, 16.86], yW: 52, yTicks: alphaTraceYTicks, yLabels: alphaTraceYLabels })}
        {alphaTraceSeries.map((_, k) => (
          <Line key={'at' + k} dataKey={'s' + k} type="linear" stroke={TAB10[alphaTraceColorIdx[k]]} strokeOpacity={alphaTraceOpacity[k]}
            strokeWidth={alphaTraceWidth[k]} strokeDasharray={k === 22 ? DASHES[1] : k % 3 === 2 ? DASHES[2] : undefined}
            dot={false} activeDot={false} isAnimationActive={false} />
        ))}
      </Panel>

      <svg width={950} height={379} style={{ position: 'absolute', left: 0, top: 0, pointerEvents: 'none' }}>
        <text x={221.5} y={22.5} textAnchor="middle" fontFamily={FONT} fontSize={14.5} fill="#000">mu_alpha</text>
        <text x={728.5} y={22.5} textAnchor="middle" fontFamily={FONT} fontSize={14.5} fill="#000">mu_alpha</text>
        <text x={221.5} y={190} textAnchor="middle" fontFamily={FONT} fontSize={14.5} fill="#000">alpha</text>
        <text x={728.5} y={190} textAnchor="middle" fontFamily={FONT} fontSize={14.5} fill="#000">alpha</text>
      </svg>
    </div>
  );
}
